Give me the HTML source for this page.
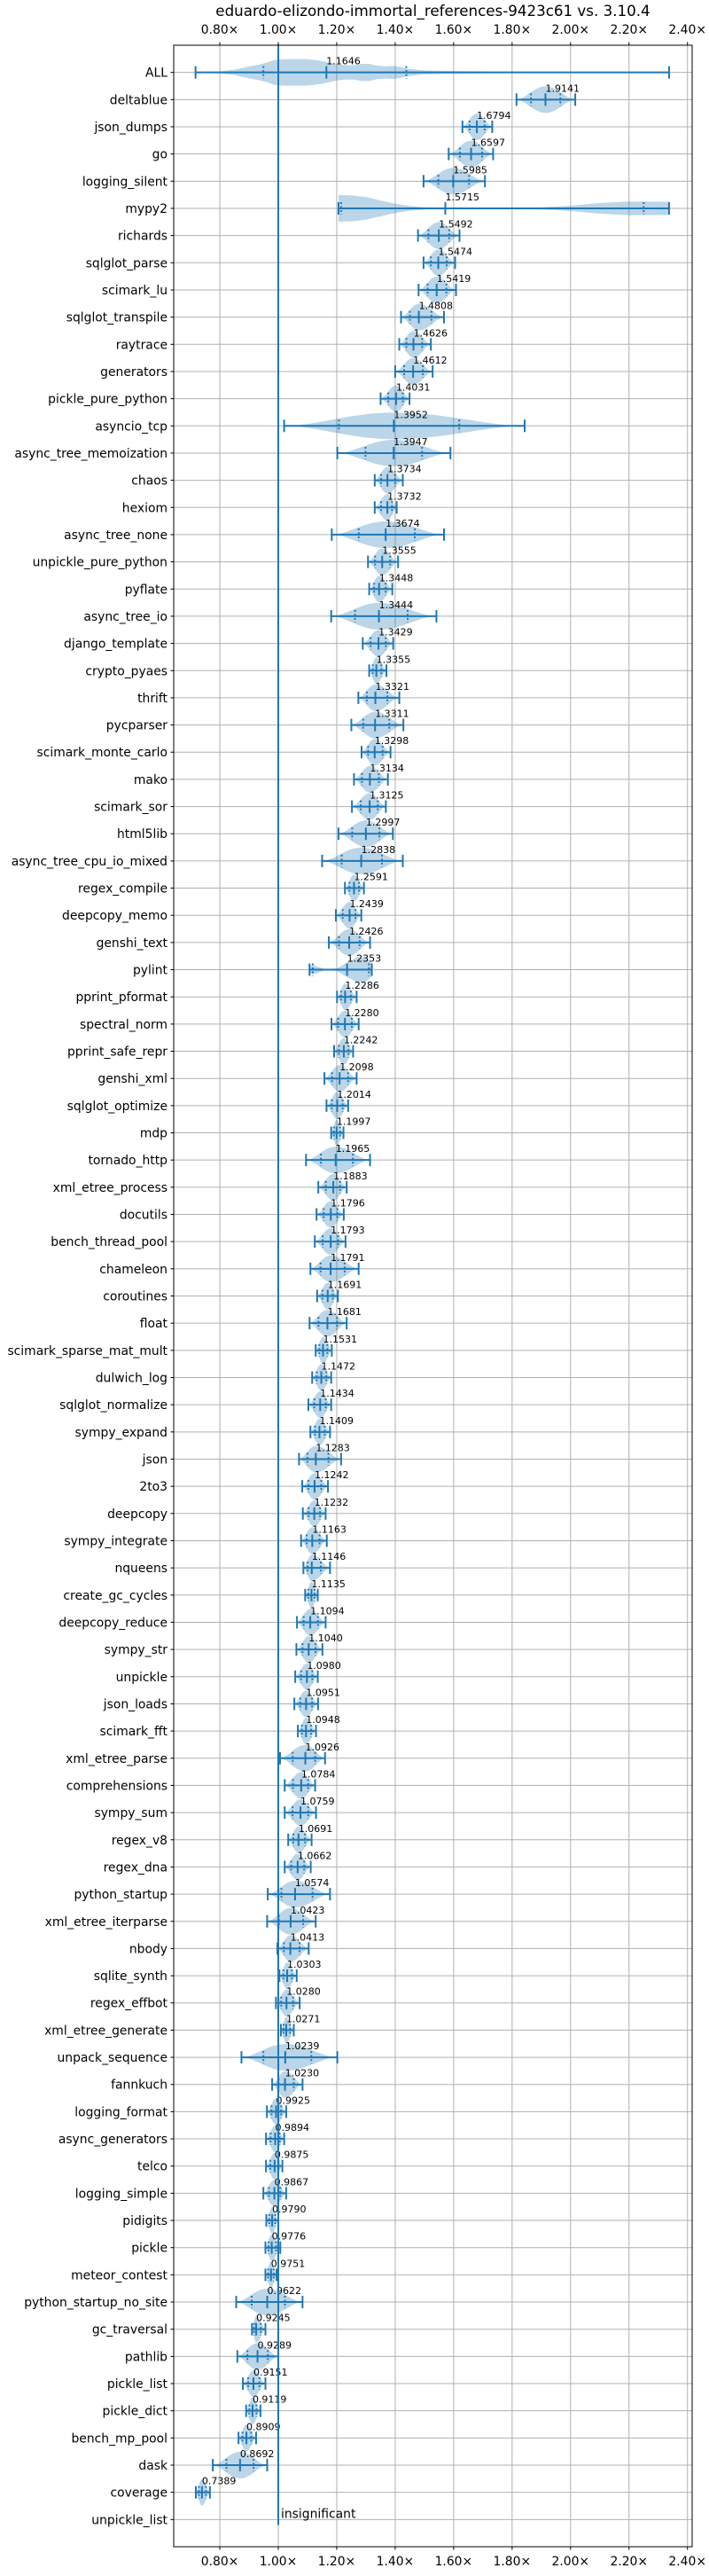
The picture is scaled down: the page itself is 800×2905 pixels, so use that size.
<!DOCTYPE html>
<html><head><meta charset="utf-8">
<style>
html,body{margin:0;padding:0;background:#fff;}
svg text{font-family:"DejaVu Sans","Liberation Sans",sans-serif;}
</style></head>
<body>
<svg id="chart" width="800" height="2900" viewBox="0 0 800 2900" xmlns="http://www.w3.org/2000/svg">
<rect x="0" y="0" width="800" height="2900" fill="#fff"/>
<text x="488.5" y="18" font-size="16.7" text-anchor="middle" fill="#000">eduardo-elizondo-immortal_references-9423c61 vs. 3.10.4</text>
<g id="grid"></g>
<g id="violins"></g>
<g id="axes"></g>
</svg>
<script>
const names = ["ALL","deltablue","json_dumps","go","logging_silent","mypy2","richards","sqlglot_parse","scimark_lu","sqlglot_transpile","raytrace","generators","pickle_pure_python","asyncio_tcp","async_tree_memoization","chaos","hexiom","async_tree_none","unpickle_pure_python","pyflate","async_tree_io","django_template","crypto_pyaes","thrift","pycparser","scimark_monte_carlo","mako","scimark_sor","html5lib","async_tree_cpu_io_mixed","regex_compile","deepcopy_memo","genshi_text","pylint","pprint_pformat","spectral_norm","pprint_safe_repr","genshi_xml","sqlglot_optimize","mdp","tornado_http","xml_etree_process","docutils","bench_thread_pool","chameleon","coroutines","float","scimark_sparse_mat_mult","dulwich_log","sqlglot_normalize","sympy_expand","json","2to3","deepcopy","sympy_integrate","nqueens","create_gc_cycles","deepcopy_reduce","sympy_str","unpickle","json_loads","scimark_fft","xml_etree_parse","comprehensions","sympy_sum","regex_v8","regex_dna","python_startup","xml_etree_iterparse","nbody","sqlite_synth","regex_effbot","xml_etree_generate","unpack_sequence","fannkuch","logging_format","async_generators","telco","logging_simple","pidigits","pickle","meteor_contest","python_startup_no_site","gc_traversal","pathlib","pickle_list","pickle_dict","bench_mp_pool","dask","coverage","unpickle_list"];
const medians = [1.1646,1.9141,1.6794,1.6597,1.5985,1.5715,1.5492,1.5474,1.5419,1.4808,1.4626,1.4612,1.4031,1.3952,1.3947,1.3734,1.3732,1.3674,1.3555,1.3448,1.3444,1.3429,1.3355,1.3321,1.3311,1.3298,1.3134,1.3125,1.2997,1.2838,1.2591,1.2439,1.2426,1.2353,1.2286,1.2280,1.2242,1.2098,1.2014,1.1997,1.1965,1.1883,1.1796,1.1793,1.1791,1.1691,1.1681,1.1531,1.1472,1.1434,1.1409,1.1283,1.1242,1.1232,1.1163,1.1146,1.1135,1.1094,1.1040,1.0980,1.0951,1.0948,1.0926,1.0784,1.0759,1.0691,1.0662,1.0574,1.0423,1.0413,1.0303,1.0280,1.0271,1.0239,1.0230,0.9925,0.9894,0.9875,0.9867,0.9790,0.9776,0.9751,0.9622,0.9245,0.9289,0.9151,0.9119,0.8909,0.8692,0.7389,null];
const mins = [0.717,1.815,1.630,1.583,1.497,1.206,1.478,1.497,1.480,1.420,1.414,1.400,1.350,1.020,1.202,1.330,1.330,1.183,1.307,1.311,1.181,1.289,1.311,1.274,1.250,1.285,1.259,1.252,1.206,1.150,1.228,1.197,1.173,1.107,1.201,1.182,1.191,1.158,1.165,1.181,1.095,1.137,1.131,1.125,1.110,1.133,1.107,1.128,1.116,1.103,1.110,1.071,1.082,1.084,1.078,1.086,1.092,1.064,1.062,1.058,1.055,1.067,1.006,1.022,1.022,1.034,1.022,0.964,0.962,0.997,1.004,0.992,1.009,0.874,0.979,0.961,0.958,0.958,0.949,0.959,0.956,0.956,0.856,0.910,0.860,0.879,0.890,0.864,0.776,0.718,null];
const maxs = [2.337,2.016,1.732,1.735,1.707,2.337,1.620,1.605,1.608,1.567,1.522,1.528,1.449,1.843,1.589,1.426,1.405,1.567,1.410,1.390,1.541,1.393,1.370,1.414,1.428,1.384,1.375,1.368,1.392,1.426,1.293,1.284,1.314,1.320,1.268,1.275,1.256,1.268,1.239,1.223,1.314,1.234,1.224,1.230,1.275,1.204,1.234,1.183,1.181,1.181,1.177,1.215,1.170,1.162,1.166,1.177,1.135,1.162,1.151,1.135,1.136,1.129,1.160,1.126,1.129,1.114,1.111,1.177,1.128,1.104,1.063,1.073,1.053,1.202,1.083,1.027,1.020,1.014,1.027,1.000,1.007,0.994,1.083,0.956,1.000,0.956,0.939,0.924,0.962,0.766,null];
// explicit quantiles for multimodal rows
const quantileRows = ["ALL","mypy2","pylint"];
const quantileLow = [0.949,1.215,1.118];
const quantileHigh = [1.438,2.25,1.31];
// custom density profiles for multimodal rows
const allDensX = [0.717,0.80,0.85,0.90,0.95,0.98,1.00,1.05,1.10,1.15,1.20,1.25,1.30,1.35,1.40,1.45,1.50,1.60,1.70,1.80,2.00,2.337];
const allDensY = [0.02,0.08,0.2,0.45,0.65,0.9,1.0,1.0,1.0,0.85,0.6,0.5,0.7,0.45,0.5,0.25,0.15,0.1,0.08,0.05,0.02,0.01];
const mypyDensX = [1.206,1.25,1.30,1.35,1.40,1.45,1.50,1.60,1.80,1.90,2.00,2.10,2.20,2.337];
const mypyDensY = [1.0,0.98,0.85,0.6,0.35,0.18,0.08,0.05,0.03,0.08,0.2,0.4,0.52,0.5];
const pylintDensX = [1.107,1.12,1.14,1.16,1.20,1.24,1.27,1.30,1.32];
const pylintDensY = [0.25,0.35,0.2,0.03,0.1,0.6,0.95,0.9,0.5];
const xTicks = [0.8,1.0,1.2,1.4,1.6,1.8,2.0,2.2,2.4];
const xTickLabels = ["0.80×","1.00×","1.20×","1.40×","1.60×","1.80×","2.00×","2.20×","2.40×"];

const NS="http://www.w3.org/2000/svg";
const L=196,R=781,T=51,B=2872;
const rowH=(B-T)/92;
function xs(v){return 314+(v-1)*329.8;}
function ys(i){return T+(i+1)*rowH;}
function mk(tag,parent){const e=document.createElementNS(NS,tag);parent.appendChild(e);return e;}
function setA(e,o){for(const k in o)e.setAttribute(k,o[k]);}
const grid=document.getElementById('grid'),vg=document.getElementById('violins'),ax=document.getElementById('axes');

xTicks.forEach((t,k)=>{
  const g=mk('line',grid);setA(g,{x1:xs(t),x2:xs(t),y1:T,y2:B,stroke:'#b0b0b0','stroke-width':1});
  
  
  [[T,T-3.5,T-13],[B,B+3.5,B+21]].forEach(([a,b,ty])=>{
    const tk=mk('line',ax);setA(tk,{x1:xs(t),x2:xs(t),y1:a,y2:b,stroke:'#000','stroke-width':1});
    
    
    const tl=mk('text',ax);setA(tl,{x:xs(t),y:ty,'font-size':13.9,'text-anchor':'middle',fill:'#000'});
    tl.textContent=xTickLabels[k];
    
    
  });
});
names.forEach((n,i)=>{
  const y=ys(i);
  const g=mk('line',grid);setA(g,{x1:L,x2:R,y1:y,y2:y,stroke:'#b0b0b0','stroke-width':1});
  
  
  const tk=mk('line',ax);setA(tk,{x1:L-3.5,x2:L,y1:y,y2:y,stroke:'#000','stroke-width':1});
  
  
  const tl=mk('text',ax);setA(tl,{x:L-7,y:y+5,'font-size':13.9,'text-anchor':'end',fill:'#000'});
  tl.textContent=n;
  
  
});

function interp(xa,ya,v){
  if(v<=xa[0])return ya[0];
  for(let k=1;k<xa.length;k++){if(v<=xa[k]){const f=(v-xa[k-1])/(xa[k]-xa[k-1]);return ya[k-1]+f*(ya[k]-ya[k-1]);}}
  return ya[ya.length-1];
}
const HALF=15, N=60;
names.forEach((n,i)=>{
  const med=medians[i];
  if(med===null)return;
  const lo=mins[i],hi=maxs[i],y=ys(i);
  let dens;
  if(n==='ALL')dens=v=>interp(allDensX,allDensY,v);
  else if(n==='mypy2')dens=v=>interp(mypyDensX,mypyDensY,v);
  else if(n==='pylint')dens=v=>interp(pylintDensX,pylintDensY,v);
  else dens=v=>{const s=v<med?(med-lo):(hi-med);const u=s>0?Math.min(1,Math.abs(v-med)/s):1;return Math.max(0.04,Math.pow(1-u*u,2));};
  const top=[],bot=[];
  for(let k=0;k<=N;k++){const v=lo+(hi-lo)*k/N;const h=HALF*dens(v);top.push(xs(v).toFixed(2)+','+(y-h).toFixed(2));bot.unshift(xs(v).toFixed(2)+','+(y+h).toFixed(2));}
  const p=mk('path',vg);setA(p,{d:'M'+top.join('L')+'L'+bot.join('L')+'Z',fill:'#1f77b4','fill-opacity':0.3,stroke:'none'});
  
  
  const hl=mk('line',vg);setA(hl,{x1:xs(lo),x2:xs(hi),y1:y,y2:y,stroke:'#1f77b4','stroke-width':2});
  
  
  [lo,hi,med].forEach(v=>{
    const c=mk('line',vg);setA(c,{x1:xs(v),x2:xs(v),y1:y-7,y2:y+7,stroke:'#1f77b4','stroke-width':2});
    
    
  });
  const qi=quantileRows.indexOf(n);
  const qs = qi>=0 ? [quantileLow[qi],quantileHigh[qi]] : [med-(med-lo)*0.5,med+(hi-med)*0.5];
  qs.forEach(v=>{
    const q=mk('line',vg);setA(q,{x1:xs(v),x2:xs(v),y1:y-7,y2:y+7,stroke:'#1f77b4','stroke-width':2,'stroke-dasharray':'2,2.5'});
    
    
  });
  const lb=mk('text',vg);setA(lb,{x:xs(med),y:y-9,'font-size':11,fill:'#000'});
  lb.textContent=med.toFixed(4);
  
  
});
// baseline 1.00 line
const bl=mk('line',ax);setA(bl,{x1:xs(1),x2:xs(1),y1:T,y2:ys(names.length-1)+6,stroke:'#1f77b4','stroke-width':2});


const ins=mk('text',ax);setA(ins,{x:xs(1)+3,y:ys(names.length-1)-2,'font-size':13.9,fill:'#000'});
ins.textContent='insignificant';


const fr=mk('rect',ax);setA(fr,{x:L,y:T,width:R-L,height:B-T,fill:'none',stroke:'#000','stroke-width':1});


</script>
</body></html>
